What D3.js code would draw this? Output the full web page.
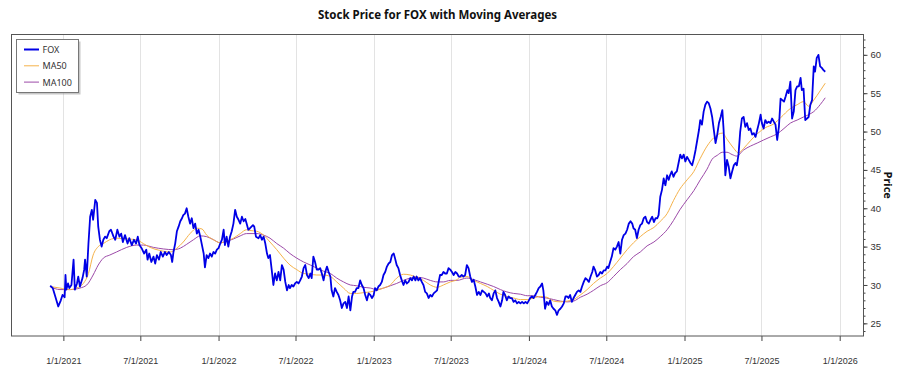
<!DOCTYPE html>
<html>
<head>
<meta charset="utf-8">
<script src="https://cdn.jsdelivr.net/npm/d3@7"></script>
<style>
  body { margin: 0; background: #fff; }
  svg { display: block; font-family: "Noto Sans", "Open Sans", sans-serif; }
</style>
</head>
<body>
<svg id="chart" width="900" height="375"></svg>
<script>
// FOX close (~every 4 days)
const foxPrice = [
  ["2020-12-01",29.9],["2020-12-07",29.6],["2020-12-13",28.5],["2020-12-20",27.2],["2020-12-26",28.0],["2020-12-30",28.7],
  ["2021-01-04",28.4],["2021-01-06",31.3],["2021-01-08",29.4],["2021-01-12",30.2],["2021-01-15",29.6],["2021-01-20",30.0],
  ["2021-01-25",33.3],["2021-01-28",29.4],["2021-02-02",30.2],["2021-02-05",31.1],["2021-02-09",29.8],["2021-02-15",30.9],
  ["2021-02-19",32.0],["2021-02-21",33.3],["2021-02-25",31.1],["2021-03-01",35.4],["2021-03-05",38.9],["2021-03-09",39.8],
  ["2021-03-12",38.5],["2021-03-17",41.1],["2021-03-21",40.7],["2021-03-24",37.6],["2021-03-28",35.9],["2021-04-01",35.0],
  ["2021-04-05",35.9],["2021-04-09",36.3],["2021-04-13",36.1],["2021-04-19",37.0],["2021-04-23",37.2],["2021-04-29",36.3],
  ["2021-05-03",35.9],["2021-05-08",37.2],["2021-05-13",36.3],["2021-05-17",36.7],["2021-05-21",35.6],["2021-05-26",36.5],
  ["2021-06-01",35.4],["2021-06-05",36.1],["2021-06-11",35.2],["2021-06-16",35.9],["2021-06-21",35.4],["2021-06-25",36.3],
  ["2021-06-29",35.2],["2021-07-04",34.8],["2021-07-10",34.1],["2021-07-15",34.6],["2021-07-18",33.3],["2021-07-22",34.1],
  ["2021-07-27",33.0],["2021-08-01",33.7],["2021-08-05",32.8],["2021-08-09",33.9],["2021-08-14",33.3],["2021-08-18",34.3],
  ["2021-08-23",33.7],["2021-08-28",34.3],["2021-09-01",33.9],["2021-09-06",34.3],["2021-09-11",33.9],["2021-09-14",33.0],
  ["2021-09-17",34.3],["2021-09-21",35.4],["2021-09-25",37.0],["2021-09-29",37.6],["2021-10-03",38.3],["2021-10-07",38.7],
  ["2021-10-10",39.1],["2021-10-14",39.3],["2021-10-18",40.0],["2021-10-22",38.9],["2021-10-26",38.0],["2021-10-30",38.7],
  ["2021-11-03",37.4],["2021-11-07",38.0],["2021-11-11",36.7],["2021-11-15",37.2],["2021-11-19",36.3],["2021-11-23",35.2],
  ["2021-11-27",34.1],["2021-11-30",32.3],["2021-12-04",33.9],["2021-12-08",33.5],["2021-12-12",34.1],["2021-12-16",33.7],
  ["2021-12-20",34.3],["2021-12-24",34.1],["2021-12-28",34.6],["2022-01-01",34.8],["2022-01-05",35.4],["2022-01-09",35.9],
  ["2022-01-13",37.2],["2022-01-16",35.2],["2022-01-20",36.3],["2022-01-24",35.0],["2022-01-28",36.3],["2022-02-01",37.0],
  ["2022-02-05",38.0],["2022-02-09",39.8],["2022-02-13",38.9],["2022-02-17",38.5],["2022-02-21",38.0],["2022-02-25",38.9],
  ["2022-03-01",38.3],["2022-03-05",38.6],["2022-03-08",38.0],["2022-03-12",37.2],["2022-03-16",37.4],["2022-03-23",37.8],
  ["2022-03-26",37.6],["2022-03-30",36.3],["2022-04-05",36.1],["2022-04-09",36.5],["2022-04-13",35.9],["2022-04-17",36.3],
  ["2022-04-21",35.4],["2022-04-25",34.1],["2022-04-28",33.5],["2022-05-02",33.9],["2022-05-06",32.0],["2022-05-10",30.0],
  ["2022-05-14",31.5],["2022-05-18",30.6],["2022-05-22",31.7],["2022-05-26",30.6],["2022-05-30",32.6],["2022-06-03",32.0],
  ["2022-06-07",30.4],["2022-06-11",29.3],["2022-06-15",30.0],["2022-06-18",29.6],["2022-06-22",30.0],["2022-06-26",29.8],
  ["2022-06-30",30.2],["2022-07-04",30.4],["2022-07-08",30.2],["2022-07-12",30.6],["2022-07-16",31.1],["2022-07-20",32.2],
  ["2022-07-24",32.6],["2022-07-28",31.3],["2022-08-01",30.9],["2022-08-05",31.5],["2022-08-08",30.9],["2022-08-12",33.7],
  ["2022-08-16",33.0],["2022-08-20",32.0],["2022-08-24",32.0],["2022-08-28",32.2],["2022-09-01",31.5],["2022-09-05",30.6],
  ["2022-09-09",31.7],["2022-09-13",32.4],["2022-09-17",31.7],["2022-09-21",31.1],["2022-09-24",29.3],["2022-09-28",28.5],
  ["2022-10-02",29.6],["2022-10-06",29.1],["2022-10-10",28.7],["2022-10-14",28.0],["2022-10-18",27.0],["2022-10-22",27.6],
  ["2022-10-26",27.8],["2022-10-30",27.0],["2022-11-03",28.5],["2022-11-07",26.7],["2022-11-11",28.5],["2022-11-14",29.1],
  ["2022-11-18",29.1],["2022-11-22",29.6],["2022-11-26",29.6],["2022-11-30",30.6],["2022-12-04",30.0],["2022-12-08",29.6],
  ["2022-12-12",28.7],["2022-12-16",28.0],["2022-12-20",28.9],["2022-12-24",28.7],["2022-12-28",28.3],["2023-01-01",28.7],
  ["2023-01-04",29.6],["2023-01-08",29.3],["2023-01-12",29.8],["2023-01-16",30.0],["2023-01-20",30.4],["2023-01-24",31.3],
  ["2023-01-28",31.7],["2023-02-01",32.4],["2023-02-05",32.8],["2023-02-09",33.0],["2023-02-13",33.9],["2023-02-17",34.1],
  ["2023-02-20",33.5],["2023-02-24",32.6],["2023-02-28",32.2],["2023-03-04",31.3],["2023-03-08",30.6],["2023-03-12",30.0],
  ["2023-03-16",30.6],["2023-03-20",30.2],["2023-03-24",30.4],["2023-03-28",30.9],["2023-04-01",30.6],["2023-04-05",31.1],
  ["2023-04-09",30.6],["2023-04-12",31.1],["2023-04-16",30.6],["2023-04-20",30.9],["2023-04-24",30.4],["2023-04-28",30.0],
  ["2023-05-02",29.1],["2023-05-06",28.9],["2023-05-10",28.3],["2023-05-14",28.7],["2023-05-18",28.5],["2023-05-22",28.9],
  ["2023-05-26",29.1],["2023-05-30",29.3],["2023-06-02",30.2],["2023-06-06",31.3],["2023-06-10",31.3],["2023-06-14",31.7],
  ["2023-06-18",31.5],["2023-06-22",31.5],["2023-06-26",32.2],["2023-06-30",32.0],["2023-07-04",31.7],["2023-07-08",31.3],
  ["2023-07-12",31.7],["2023-07-16",31.5],["2023-07-20",31.1],["2023-07-23",31.1],["2023-07-27",31.3],["2023-07-31",31.1],
  ["2023-08-04",31.3],["2023-08-08",32.6],["2023-08-12",32.2],["2023-08-16",31.1],["2023-08-20",30.4],["2023-08-24",30.7],
  ["2023-08-28",29.8],["2023-09-01",28.7],["2023-09-05",29.1],["2023-09-09",28.7],["2023-09-13",29.3],["2023-09-17",29.1],
  ["2023-09-21",28.9],["2023-09-25",28.5],["2023-09-29",28.9],["2023-10-02",28.3],["2023-10-06",28.0],["2023-10-10",28.9],
  ["2023-10-14",29.3],["2023-10-18",28.3],["2023-10-22",27.8],["2023-10-26",27.2],["2023-10-30",28.0],["2023-11-02",29.1],
  ["2023-11-06",28.7],["2023-11-10",28.0],["2023-11-14",28.5],["2023-11-18",28.3],["2023-11-22",28.3],["2023-11-26",27.8],
  ["2023-11-30",28.0],["2023-12-04",27.6],["2023-12-08",27.8],["2023-12-12",27.6],["2023-12-16",27.8],["2023-12-20",27.6],
  ["2023-12-24",27.8],["2023-12-28",27.6],["2024-01-01",28.0],["2024-01-04",28.3],["2024-01-08",28.5],["2024-01-12",28.3],
  ["2024-01-16",28.7],["2024-01-20",29.1],["2024-01-24",29.6],["2024-01-28",29.8],["2024-02-01",30.2],["2024-02-04",29.3],
  ["2024-02-08",26.9],["2024-02-12",27.8],["2024-02-16",27.4],["2024-02-20",28.0],["2024-02-24",27.2],["2024-02-28",26.9],
  ["2024-03-03",26.7],["2024-03-07",26.1],["2024-03-11",26.7],["2024-03-15",26.9],["2024-03-19",27.2],["2024-03-23",27.6],
  ["2024-03-27",28.5],["2024-03-31",28.5],["2024-04-03",28.3],["2024-04-07",28.7],["2024-04-11",27.8],["2024-04-15",28.3],
  ["2024-04-19",28.7],["2024-04-23",29.1],["2024-04-27",29.3],["2024-05-01",29.1],["2024-05-05",29.8],["2024-05-09",30.4],
  ["2024-05-13",30.9],["2024-05-17",30.7],["2024-05-21",30.4],["2024-05-25",31.1],["2024-05-29",31.7],["2024-06-01",32.4],
  ["2024-06-05",31.9],["2024-06-09",31.1],["2024-06-13",31.3],["2024-06-17",31.7],["2024-06-21",31.5],["2024-06-25",31.9],
  ["2024-06-29",31.9],["2024-07-03",32.4],["2024-07-06",32.2],["2024-07-10",33.0],["2024-07-14",33.7],["2024-07-18",34.8],
  ["2024-07-22",34.6],["2024-07-26",35.0],["2024-07-30",35.6],["2024-08-03",34.1],["2024-08-07",35.9],["2024-08-11",36.5],
  ["2024-08-15",36.7],["2024-08-19",37.2],["2024-08-23",38.0],["2024-08-27",38.3],["2024-08-31",38.0],["2024-09-03",37.4],
  ["2024-09-07",37.2],["2024-09-11",36.1],["2024-09-15",37.2],["2024-09-19",37.8],["2024-09-23",38.0],["2024-09-27",38.7],
  ["2024-10-01",38.9],["2024-10-05",38.2],["2024-10-09",38.0],["2024-10-13",38.5],["2024-10-17",38.9],["2024-10-21",38.2],
  ["2024-10-25",38.7],["2024-10-29",38.7],["2024-11-01",39.1],["2024-11-05",41.5],["2024-11-09",42.4],["2024-11-13",43.9],
  ["2024-11-17",43.0],["2024-11-21",44.3],["2024-11-25",43.7],["2024-11-28",44.3],["2024-12-02",44.8],["2024-12-06",44.1],
  ["2024-12-10",44.6],["2024-12-14",44.8],["2024-12-18",45.9],["2024-12-22",47.0],["2024-12-26",46.5],["2024-12-30",47.0],
  ["2025-01-03",46.1],["2025-01-07",46.7],["2025-01-11",46.3],["2025-01-15",45.9],["2025-01-19",45.6],["2025-01-23",46.5],
  ["2025-01-27",47.6],["2025-01-31",48.9],["2025-02-04",50.2],["2025-02-07",51.5],["2025-02-11",50.9],["2025-02-15",52.6],
  ["2025-02-19",53.5],["2025-02-23",53.9],["2025-02-27",53.7],["2025-03-03",53.0],["2025-03-07",51.9],["2025-03-11",50.2],
  ["2025-03-15",48.5],["2025-03-19",49.6],["2025-03-23",51.1],["2025-03-27",51.9],["2025-03-31",52.8],["2025-04-03",50.2],
  ["2025-04-07",44.3],["2025-04-11",46.3],["2025-04-15",45.4],["2025-04-19",43.9],["2025-04-23",44.8],["2025-04-27",45.6],
  ["2025-05-01",45.9],["2025-05-04",45.6],["2025-05-08",47.0],["2025-05-12",50.0],["2025-05-16",51.7],["2025-05-20",51.9],
  ["2025-05-24",50.6],["2025-05-28",51.1],["2025-06-01",50.2],["2025-06-05",50.4],["2025-06-09",49.6],["2025-06-13",49.8],
  ["2025-06-17",49.3],["2025-06-21",50.2],["2025-06-25",51.1],["2025-06-29",52.2],["2025-07-02",51.1],["2025-07-06",50.4],
  ["2025-07-10",51.5],["2025-07-14",51.1],["2025-07-18",51.3],["2025-07-22",51.1],["2025-07-26",51.7],["2025-07-30",51.3],
  ["2025-08-03",50.9],["2025-08-07",48.9],["2025-08-11",50.6],["2025-08-15",54.3],["2025-08-19",54.1],["2025-08-23",53.9],
  ["2025-08-27",54.6],["2025-08-31",55.4],["2025-09-03",55.0],["2025-09-07",56.5],["2025-09-11",51.7],["2025-09-15",52.6],
  ["2025-09-19",55.4],["2025-09-23",55.9],["2025-09-27",55.9],["2025-10-01",57.0],["2025-10-04",55.4],["2025-10-08",55.6],
  ["2025-10-12",51.5],["2025-10-16",51.7],["2025-10-20",51.9],["2025-10-24",53.5],["2025-10-28",54.1],["2025-11-01",58.5],
  ["2025-11-04",57.8],["2025-11-08",59.6],["2025-11-12",60.0],["2025-11-16",58.5],["2025-11-20",58.3],["2025-11-24",58.0],
  ["2025-11-28",57.8]
];

const ma50 = [
  ["2020-12-01",29.8],["2020-12-24",29.6],["2021-01-16",29.4],["2021-02-01",29.6],["2021-02-17",30.2],["2021-03-01",31.5],
  ["2021-03-12",33.9],["2021-03-24",35.0],["2021-04-05",35.4],["2021-04-20",35.9],["2021-05-06",36.1],["2021-05-30",36.0],
  ["2021-06-22",35.9],["2021-07-08",35.4],["2021-07-24",34.9],["2021-08-16",34.5],["2021-09-09",34.3],["2021-09-25",34.8],
  ["2021-10-10",35.6],["2021-10-26",36.7],["2021-11-11",37.4],["2021-11-23",37.3],["2021-12-04",36.5],["2021-12-20",35.9],
  ["2022-01-05",35.5],["2022-01-20",35.7],["2022-02-05",36.1],["2022-02-21",36.7],["2022-03-08",37.2],["2022-03-16",37.1],
  ["2022-04-01",37.0],["2022-04-17",36.5],["2022-05-02",35.6],["2022-05-18",34.6],["2022-06-03",33.5],["2022-06-18",32.6],
  ["2022-07-04",32.0],["2022-07-20",31.5],["2022-08-05",31.4],["2022-08-20",31.3],["2022-09-05",31.3],["2022-09-21",31.1],
  ["2022-10-06",30.4],["2022-10-22",29.6],["2022-11-07",28.9],["2022-11-22",28.9],["2022-12-08",29.0],["2022-12-24",29.1],
  ["2023-01-08",29.3],["2023-01-24",29.6],["2023-02-09",30.0],["2023-02-24",30.9],["2023-03-12",31.4],["2023-03-28",31.3],
  ["2023-04-12",31.0],["2023-04-28",30.6],["2023-05-14",30.0],["2023-05-30",29.7],["2023-06-14",30.0],["2023-06-30",30.4],
  ["2023-07-16",30.7],["2023-07-23",31.0],["2023-08-08",31.1],["2023-08-24",30.6],["2023-09-09",30.2],["2023-09-25",29.8],
  ["2023-10-10",29.3],["2023-10-26",28.8],["2023-11-10",28.5],["2023-11-26",28.3],["2023-12-12",28.1],["2023-12-28",28.1],
  ["2024-01-12",28.3],["2024-01-28",28.5],["2024-02-12",28.4],["2024-02-28",27.9],["2024-03-15",27.8],["2024-03-31",27.9],
  ["2024-04-15",28.1],["2024-05-01",28.7],["2024-05-17",29.4],["2024-06-01",30.2],["2024-06-17",30.9],["2024-07-03",31.5],
  ["2024-07-18",32.4],["2024-08-03",33.5],["2024-08-19",34.6],["2024-09-03",35.5],["2024-09-19",36.3],["2024-10-05",37.0],
  ["2024-10-21",37.5],["2024-11-05",38.3],["2024-11-21",39.3],["2024-12-06",41.0],["2024-12-21",42.5],["2025-01-07",43.7],
  ["2025-01-23",44.8],["2025-02-07",46.5],["2025-02-23",48.1],["2025-03-11",49.2],["2025-03-31",49.8],["2025-04-11",49.0],
  ["2025-04-27",47.8],["2025-05-08",47.2],["2025-05-20",47.8],["2025-06-05",48.8],["2025-06-21",49.7],["2025-07-10",50.5],
  ["2025-07-30",51.0],["2025-08-15",51.8],["2025-09-07",53.0],["2025-09-23",53.5],["2025-10-08",53.9],["2025-10-20",53.3],
  ["2025-11-01",54.1],["2025-11-16",55.3],["2025-11-28",56.3]
];

const ma100 = [
  ["2020-12-01",29.8],["2020-12-24",29.4],["2021-01-16",29.4],["2021-02-09",29.6],["2021-02-25",30.0],["2021-03-12",31.3],
  ["2021-03-24",32.6],["2021-04-05",33.5],["2021-04-20",33.9],["2021-05-06",34.3],["2021-05-30",34.9],["2021-06-22",35.2],
  ["2021-07-08",35.2],["2021-08-01",34.9],["2021-08-24",34.7],["2021-09-17",34.6],["2021-10-03",34.8],["2021-10-18",35.3],
  ["2021-11-03",35.9],["2021-11-19",36.4],["2021-12-04",36.3],["2021-12-20",35.9],["2022-01-05",35.5],["2022-01-20",35.7],
  ["2022-02-05",36.0],["2022-02-21",36.4],["2022-03-08",36.7],["2022-03-16",36.7],["2022-04-01",36.7],["2022-04-17",36.5],
  ["2022-05-02",36.1],["2022-05-18",35.4],["2022-06-03",34.8],["2022-06-18",34.1],["2022-07-04",33.5],["2022-07-20",33.0],
  ["2022-08-05",32.6],["2022-08-20",32.2],["2022-09-05",31.8],["2022-09-21",31.5],["2022-10-06",30.9],["2022-10-22",30.4],
  ["2022-11-07",30.0],["2022-11-22",29.9],["2022-12-08",29.7],["2022-12-24",29.6],["2023-01-08",29.4],["2023-01-24",29.6],
  ["2023-02-09",29.9],["2023-02-24",30.2],["2023-03-12",30.6],["2023-03-28",30.9],["2023-04-12",31.0],["2023-04-28",30.9],
  ["2023-05-14",30.6],["2023-05-30",30.4],["2023-06-14",30.4],["2023-06-30",30.6],["2023-07-16",30.6],["2023-08-08",30.9],
  ["2023-08-24",30.7],["2023-09-09",30.4],["2023-09-25",30.1],["2023-10-10",29.8],["2023-10-26",29.4],["2023-11-10",29.1],
  ["2023-11-26",28.9],["2023-12-12",28.8],["2023-12-28",28.6],["2024-01-12",28.6],["2024-01-28",28.4],["2024-02-12",28.3],
  ["2024-02-28",28.1],["2024-03-15",27.9],["2024-03-31",27.8],["2024-04-15",27.9],["2024-05-01",28.4],["2024-05-17",28.8],
  ["2024-06-01",29.3],["2024-06-17",29.9],["2024-07-03",30.3],["2024-07-18",31.1],["2024-08-03",32.0],["2024-08-19",32.8],
  ["2024-09-03",33.7],["2024-09-19",34.3],["2024-10-05",35.1],["2024-10-21",35.6],["2024-11-05",36.3],["2024-11-21",37.2],
  ["2024-12-06",38.4],["2024-12-21",39.8],["2025-01-07",41.1],["2025-01-23",42.3],["2025-02-07",43.7],["2025-02-23",45.1],
  ["2025-03-07",46.4],["2025-03-19",46.9],["2025-03-31",47.3],["2025-04-11",47.3],["2025-04-23",47.0],["2025-05-04",46.8],
  ["2025-05-20",47.6],["2025-06-05",48.1],["2025-06-21",48.5],["2025-07-06",48.9],["2025-07-22",49.3],["2025-08-07",49.7],
  ["2025-08-23",50.4],["2025-09-07",51.1],["2025-09-23",51.5],["2025-10-08",51.9],["2025-10-20",52.2],["2025-11-01",52.6],
  ["2025-11-16",53.5],["2025-11-28",54.4]
];

const xTickDates = ["2021-01-01","2021-07-01","2022-01-01","2022-07-01","2023-01-01","2023-07-01",
                    "2024-01-01","2024-07-01","2025-01-01","2025-07-01","2026-01-01"];
const yTickValues = [25, 30, 35, 40, 45, 50, 55, 60];
const seriesNames = ["FOX", "MA50", "MA100"];
const seriesColors = ["#0000e6", "#f5b24a", "#9c4aa8"];

const parse = d3.utcParse("%Y-%m-%d");
const svgWidth = 900, svgHeight = 375;
const plotLeft = 11.5, plotRight = 863.5, plotTop = 34.5, plotBottom = 336;

const svg = d3.select("#chart");
svg.append("rect").attr("width", svgWidth).attr("height", svgHeight).attr("fill", "#fff");

const x = d3.scaleUtc()
    .domain([parse("2020-09-01"), parse("2026-02-26")])
    .range([plotLeft, plotRight]);

const y = d3.scaleLinear()
    .domain([23.35, 62.65])
    .range([plotBottom, plotTop]);

// vertical grid
svg.append("g").selectAll("line")
    .data(xTickDates.map(parse))
    .enter().append("line")
    .attr("x1", d => Math.round(x(d)) + 0.5)
    .attr("x2", d => Math.round(x(d)) + 0.5)
    .attr("y1", plotTop)
    .attr("y2", plotBottom)
    .attr("stroke", "#e3e3e3")
    .attr("stroke-width", 1);

// x axis
const xAxis = d3.axisBottom(x)
    .tickValues(xTickDates.map(parse))
    .tickFormat(d3.utcFormat("%-m/%-d/%Y"))
    .tickSize(5)
    .tickPadding(17);

const gx = svg.append("g")
    .attr("transform", "translate(0," + plotBottom + ")")
    .call(xAxis);
gx.select(".domain").remove();
gx.selectAll(".tick line").attr("stroke", "#444");
gx.selectAll(".tick text").attr("fill", "#333").style("font-size", "9px");

// y axis on the right, minor then major
const gyMinor = svg.append("g")
    .attr("transform", "translate(" + plotRight + ",0)")
    .call(d3.axisRight(y).tickValues(d3.range(24, 63)).tickSize(2).tickFormat(""));
gyMinor.select(".domain").remove();
gyMinor.selectAll(".tick line").attr("stroke", "#444");

const gy = svg.append("g")
    .attr("transform", "translate(" + plotRight + ",0)")
    .call(d3.axisRight(y).tickValues(yTickValues).tickSize(4).tickPadding(3));
gy.select(".domain").remove();
gy.selectAll(".tick line").attr("stroke", "#444");
gy.selectAll(".tick text").attr("fill", "#333").style("font-size", "9.5px");

// plot frame
svg.append("rect")
    .attr("x", plotLeft).attr("y", plotTop)
    .attr("width", plotRight - plotLeft).attr("height", plotBottom - plotTop)
    .attr("fill", "none")
    .attr("stroke", "#555")
    .attr("stroke-width", 1);

// lines
const line = d3.line()
    .x(d => x(parse(d[0])))
    .y(d => y(d[1]));
const smooth = d3.line()
    .x(d => x(parse(d[0])))
    .y(d => y(d[1]))
    .curve(d3.curveMonotoneX);

svg.append("path").datum(ma100)
    .attr("d", smooth).attr("fill", "none")
    .attr("stroke", seriesColors[2]).attr("stroke-width", 1);
svg.append("path").datum(ma50)
    .attr("d", smooth).attr("fill", "none")
    .attr("stroke", seriesColors[1]).attr("stroke-width", 1);
svg.append("path").datum(foxPrice)
    .attr("d", line).attr("fill", "none")
    .attr("stroke", seriesColors[0]).attr("stroke-width", 1.8)
    .attr("stroke-linejoin", "round");

// title + axis title
svg.append("text")
    .attr("x", (plotLeft + plotRight) / 2).attr("y", 19)
    .attr("text-anchor", "middle")
    .style("font-size", "11.5px").style("font-weight", "bold")
    .attr("fill", "#111")
    .text("Stock Price for FOX with Moving Averages");

svg.append("text")
    .attr("transform", "translate(888," + ((plotTop + plotBottom) / 2) + ") rotate(90)")
    .attr("text-anchor", "middle")
    .attr("dominant-baseline", "central")
    .style("font-size", "11px").style("font-weight", "bold")
    .attr("fill", "#111")
    .text("Price");

// legend
const legend = svg.append("g").attr("transform", "translate(16.5,39.5)");
legend.append("rect")
    .attr("x", 2).attr("y", 2).attr("width", 62).attr("height", 53)
    .attr("fill", "#999").attr("opacity", 0.55);
legend.append("rect")
    .attr("width", 62).attr("height", 53)
    .attr("fill", "#fff").attr("stroke", "#777");

const item = legend.selectAll(".item")
    .data(seriesNames)
    .enter().append("g")
    .attr("transform", (d, i) => "translate(0," + (10 + i * 16.3) + ")");
item.append("line")
    .attr("x1", 7.5).attr("x2", 22.5)
    .attr("stroke", (d, i) => seriesColors[i])
    .attr("stroke-width", (d, i) => i === 0 ? 2 : 1);
item.append("text")
    .attr("x", 26).attr("dominant-baseline", "central")
    .style("font-size", "9px").attr("fill", "#333")
    .text(d => d);
</script>
</body>
</html>
